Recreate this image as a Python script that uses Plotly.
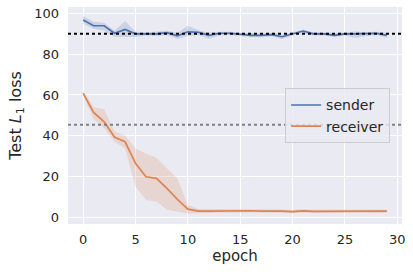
import plotly.graph_objects as go

epochs = list(range(30))
sender_mean = [96.8, 94, 94, 90.3, 92.2, 90, 90, 90, 90.6, 89, 91, 90.8, 89.3, 90.3, 90.3,
               89.7, 89.3, 89.3, 89.6, 88.6, 90, 91.4, 90, 90, 89.3, 90, 90, 90, 90.3, 89.3]
sender_upper = [98.8, 96, 95.5, 91.5, 96.3, 91, 90.8, 91, 91.5, 90.5, 94, 91.8, 90.5, 91, 91,
                90.5, 90.2, 90.2, 90.5, 89.5, 90.8, 92, 90.8, 90.8, 90.3, 90.8, 91.2, 90.8, 91, 90.5]
sender_lower = [95, 92.5, 91.5, 88.5, 88.5, 88.5, 89.2, 89, 89.5, 87.5, 89, 89.5, 87.6, 89.2, 89.5,
                89, 88.5, 88.3, 88.8, 87.5, 89.2, 90.6, 89.2, 89.2, 88.5, 89.2, 88, 89, 89.5, 88]
receiver_mean = [60.8, 51.4, 46.8, 39.2, 37, 26.4, 19.8, 19, 14.1, 8.7, 3.9, 2.9, 2.9, 3, 3,
                 2.9, 3.1, 2.9, 3, 2.9, 2.7, 3, 2.8, 2.8, 2.9, 3, 2.9, 3.1, 2.8, 2.9]
receiver_upper = [62, 54, 53, 42, 40.1, 33.7, 31.2, 29.1, 24, 18.9, 5.9, 4, 4, 4, 3.8,
                  3.7, 4, 3.7, 3.8, 3.7, 3.5, 3.8, 3.6, 3.6, 3.7, 3.8, 3.7, 3.9, 3.6, 3.7]
receiver_lower = [59.5, 48, 43.6, 37, 33.7, 14.9, 8.4, 7.6, 3.6, 2.6, 1.8, 2, 2, 2.2, 2.2,
                  2.1, 2.3, 2.2, 2.2, 2.1, 1.9, 2.2, 2, 2, 2.1, 2.2, 2.1, 2.3, 2, 2.1]
sender_ref = 90
receiver_ref = 45.3
x_ticks = [0, 5, 10, 15, 20, 25, 30]
y_ticks = [0, 20, 40, 60, 80, 100]

BLUE = "#4C72B0"
ORANGE = "#DD8452"
TXT = "#262626"

fig = go.Figure()

def band(upper, lower, color):
    fig.add_trace(go.Scatter(x=epochs + epochs[::-1], y=upper + lower[::-1], fill="toself",
                             fillcolor=color, line=dict(width=0), mode="lines",
                             hoverinfo="skip", showlegend=False))

band(sender_upper, sender_lower, "rgba(76,114,176,0.2)")
band(receiver_upper, receiver_lower, "rgba(221,132,82,0.2)")

fig.add_trace(go.Scatter(x=epochs, y=sender_mean, mode="lines", name="sender",
                         line=dict(color=BLUE, width=1.7)))
fig.add_trace(go.Scatter(x=epochs, y=receiver_mean, mode="lines", name="receiver",
                         line=dict(color=ORANGE, width=1.7)))

fig.add_hline(y=sender_ref, line=dict(color="black", width=2, dash="dot"))
fig.add_hline(y=receiver_ref, line=dict(color="grey", width=2, dash="dot"))

fig.update_layout(
    width=413, height=274,
    margin=dict(l=68, r=11, t=7, b=50, autoexpand=False),
    paper_bgcolor="white", plot_bgcolor="#EAEAF2",
    font=dict(family="DejaVu Sans", color=TXT, size=13),
    legend=dict(x=0.65, y=0.625, xanchor="left", yanchor="top",
                bgcolor="rgba(234,234,242,0.8)", bordercolor="#CCCCCC", borderwidth=1,
                font=dict(size=14, color=TXT), itemwidth=30, tracegroupgap=0),
    showlegend=True,
)
fig.update_xaxes(range=[-1.45, 30.45], tickvals=x_ticks, showgrid=True, gridcolor="white",
                 gridwidth=1, zeroline=False, showline=False, ticks="", ticklabelstandoff=6,
                 automargin=False,
                 title=dict(text="epoch", font=dict(size=15), standoff=4),
                 tickfont=dict(size=13))
fig.update_yaxes(range=[-3.4, 103.2], tickvals=y_ticks, showgrid=True, gridcolor="white",
                 gridwidth=1, zeroline=False, showline=False, ticks="", ticklabelstandoff=8,
                 automargin=False,
                 title=dict(text="Test <i>L</i><sub>1</sub> loss", font=dict(size=16), standoff=8),
                 tickfont=dict(size=13))

fig.write_html("out.html", config={"displayModeBar": False},
               post_script="document.body.style.margin='0';document.body.style.overflow='hidden';")
